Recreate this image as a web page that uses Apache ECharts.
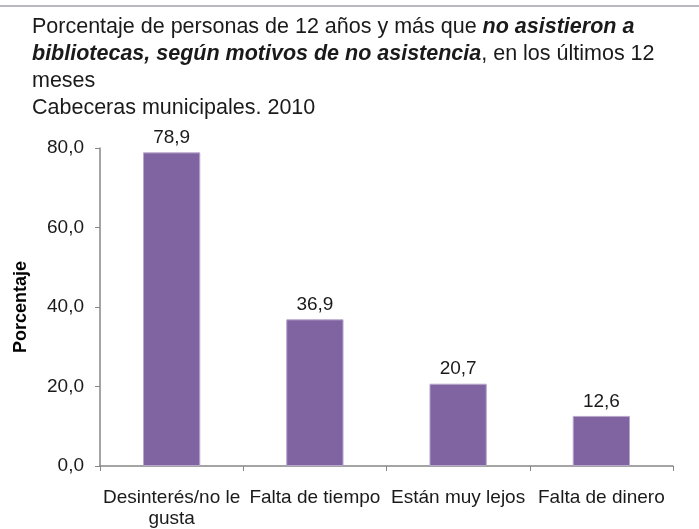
<!DOCTYPE html>
<html>
<head>
<meta charset="utf-8">
<script src="https://cdn.jsdelivr.net/npm/echarts@6/dist/echarts.min.js"></script>
<style>
  html, body { margin: 0; padding: 0; background: #fff; }
  #chart { width: 699px; height: 529px; }
</style>
</head>
<body>
<div id="chart"></div>
<script>
var categories = ['Desinterés/no le\ngusta', 'Falta de tiempo', 'Están muy lejos', 'Falta de dinero'];
var values = [78.9, 36.9, 20.7, 12.6];
var yTicks = [0, 20, 40, 60, 80];

var fmt = function (v) { return v.toFixed(1).replace('.', ','); };

var chart = echarts.init(document.getElementById('chart'), null, { renderer: 'canvas' });
var option = {
  backgroundColor: '#fff',
  textStyle: { fontFamily: 'Liberation Sans, Arial, sans-serif' },
  title: {
    left: 27,
    top: 9,
    text: 'Porcentaje de personas de 12 años y más que {b|no asistieron a}\n' +
      '{b|bibliotecas, según motivos de no asistencia}, en los últimos 12\n' +
      'meses\nCabeceras municipales. 2010',
    textStyle: {
      fontSize: 21.5,
      fontWeight: 'normal',
      color: '#1a1a1a',
      lineHeight: 27,
      rich: {
        b: { fontSize: 21.5, fontWeight: 'bold', fontStyle: 'italic', color: '#1a1a1a', lineHeight: 27 }
      }
    }
  },
  graphic: [{
    type: 'line',
    shape: { x1: 0, y1: 6, x2: 699, y2: 6 },
    style: { stroke: '#b8b8c0', lineWidth: 2 }
  }],
  grid: { left: 100, right: 26, top: 148, bottom: 62 },
  xAxis: {
    type: 'category',
    data: categories,
    axisLine: { lineStyle: { color: '#868686', width: 1.5 } },
    axisTick: { show: true, length: 5, lineStyle: { color: '#868686' } },
    axisLabel: { interval: 0, fontSize: 19, color: '#1a1a1a', margin: 21, lineHeight: 21 }
  },
  yAxis: {
    type: 'value',
    min: yTicks[0],
    max: yTicks[yTicks.length - 1],
    interval: 20,
    name: 'Porcentaje',
    nameLocation: 'middle',
    nameGap: 70,
    nameTextStyle: { fontSize: 18, fontWeight: 'bold', color: '#000' },
    splitLine: { show: false },
    axisLine: { show: true, lineStyle: { color: '#868686', width: 1.5 } },
    axisTick: { show: true, length: 5, lineStyle: { color: '#868686' } },
    axisLabel: { fontSize: 19, color: '#1a1a1a', margin: 16, formatter: fmt }
  },
  series: [{
    type: 'bar',
    data: values,
    barWidth: '40%',
    itemStyle: { color: '#8064a2', borderColor: '#b7a7cb', borderWidth: 1 },
    label: {
      show: true,
      position: 'top',
      distance: 5,
      fontSize: 19,
      color: '#1a1a1a',
      formatter: function (p) { return fmt(p.value); }
    }
  }]
};
chart.setOption(option);
</script>
</body>
</html>
